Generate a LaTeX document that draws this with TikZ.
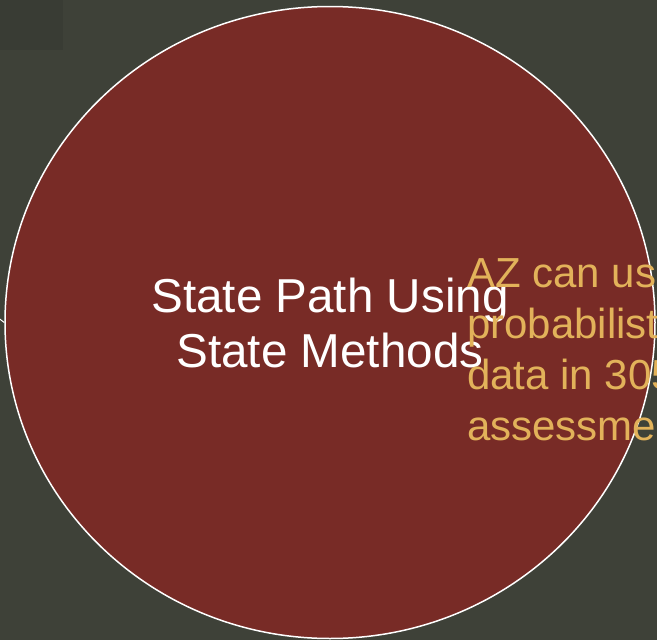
\documentclass[tikz,border=0pt]{standalone}
\usepackage{fontspec}
\setmainfont{Liberation Sans}
\usetikzlibrary{shapes.geometric}
\definecolor{slate}{RGB}{62,65,56}
\definecolor{slatedark}{RGB}{57,60,52}
\definecolor{brick}{RGB}{120,43,38}
\definecolor{gold}{RGB}{226,178,90}
\begin{document}
\begin{tikzpicture}[x=1pt, y=-1pt]
            %\draw[lightgray] (0, 0) grid (657, 640);
            \useasboundingbox (0, 0) rectangle (657, 640);
            \clip (0, 0) rectangle (657, 640);
            \fill[slate] (0, 0) rectangle (657, 640);
            \fill[slatedark] (0, 0) rectangle (63, 50);
            \node[ellipse, draw=white, line width=1.5pt, fill=brick, minimum width=650, minimum height=632, inner sep=0pt, text=white, align=center, font=\fontsize{47.6}{55}\selectfont] (state) at (330, 322.5) {State Path Using\\State Methods};
            \coordinate (lead) at (-12, 310);
            \draw[white, line width=1pt] (lead) -- (state.west);
            \node[anchor=north west, inner sep=0pt, text=gold, align=left, font=\fontsize{42}{51.3}\selectfont] (note) at (467, 258) {AZ can use\\probabilistic\\data in 305\\assessment};
        \end{tikzpicture}
\end{document}
